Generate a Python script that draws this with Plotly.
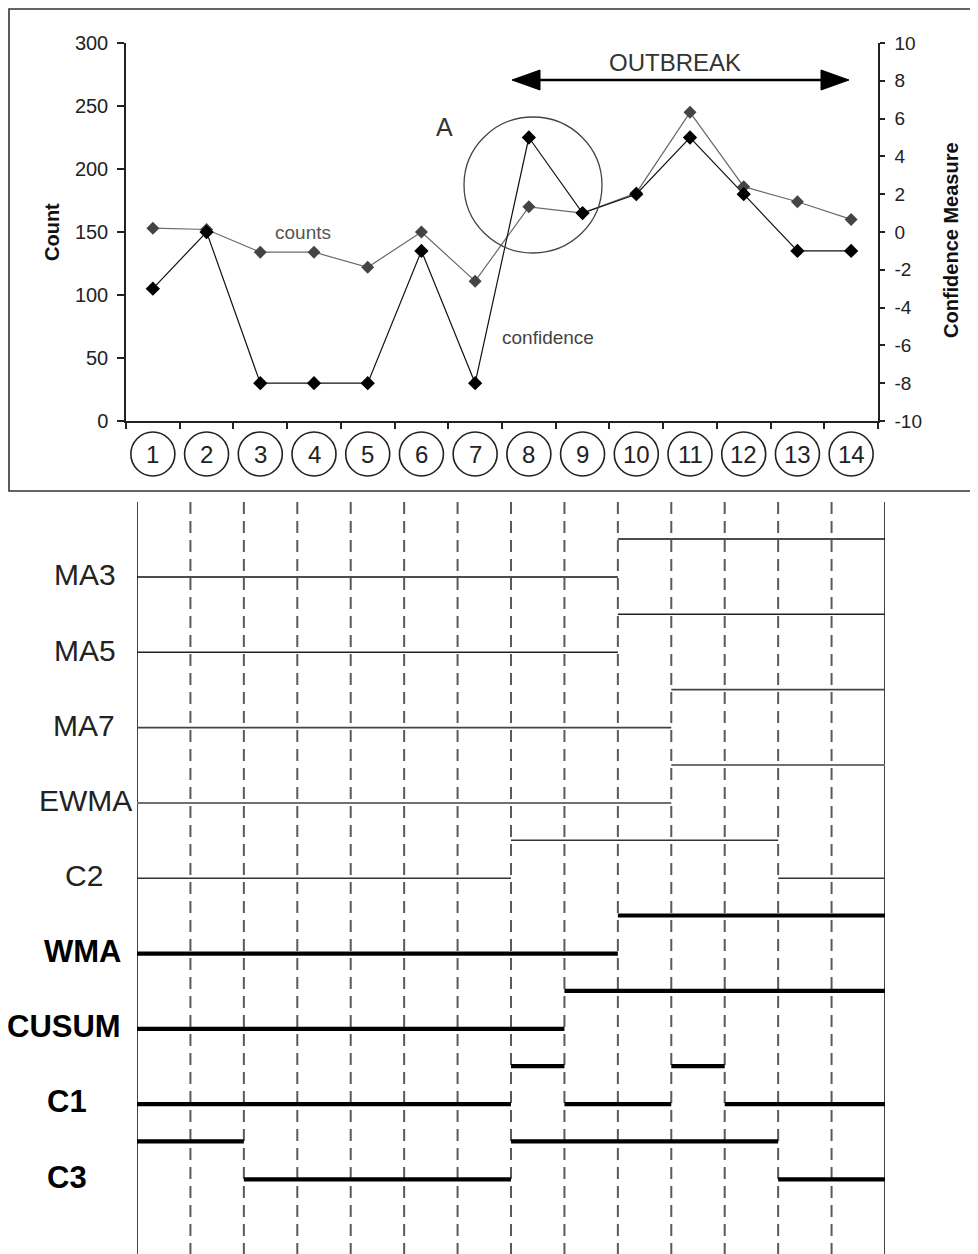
import plotly.graph_objects as go

# ---------------- data ----------------
days = list(range(1, 15))
day_labels = [str(d) for d in days]
counts = [153, 152, 134, 134, 122, 150, 111, 170, 165, 181, 245, 186, 174, 160]
confidence = [-3, 0, -8, -8, -8, -1, -8, 5, 1, 2, 5, 2, -1, -1]
count_ticks = [0, 50, 100, 150, 200, 250, 300]
conf_ticks = [-10, -8, -6, -4, -2, 0, 2, 4, 6, 8, 10]

methods = ["MA3", "MA5", "MA7", "EWMA", "C2", "WMA", "CUSUM", "C1", "C3"]
alarm_MA3 = [0, 0, 0, 0, 0, 0, 0, 0, 0, 1, 1, 1, 1, 1]
alarm_MA5 = [0, 0, 0, 0, 0, 0, 0, 0, 0, 1, 1, 1, 1, 1]
alarm_MA7 = [0, 0, 0, 0, 0, 0, 0, 0, 0, 0, 1, 1, 1, 1]
alarm_EWMA = [0, 0, 0, 0, 0, 0, 0, 0, 0, 0, 1, 1, 1, 1]
alarm_C2 = [0, 0, 0, 0, 0, 0, 0, 1, 1, 1, 1, 1, 0, 0]
alarm_WMA = [0, 0, 0, 0, 0, 0, 0, 0, 0, 1, 1, 1, 1, 1]
alarm_CUSUM = [0, 0, 0, 0, 0, 0, 0, 0, 1, 1, 1, 1, 1, 1]
alarm_C1 = [0, 0, 0, 0, 0, 0, 0, 1, 0, 0, 1, 0, 0, 0]
alarm_C3 = [1, 1, 0, 0, 0, 0, 0, 1, 1, 1, 1, 1, 0, 0]
alarms = [alarm_MA3, alarm_MA5, alarm_MA7, alarm_EWMA, alarm_C2,
          alarm_WMA, alarm_CUSUM, alarm_C1, alarm_C3]

# ---------------- style / page geometry ----------------
OFF = 8                      # default body margin of the page
FW, FH = 978 - OFF, 1254 - OFF
FONT = "Liberation Sans, Arial, sans-serif"


def PX(x):
    return (x - OFF) / FW


def PY(y):
    return 1 - (y - OFF) / FH


method_style = {
    "MA3": dict(color="#111", width=1.6, bold=False, lx=118, anchor="right"),
    "MA5": dict(color="#222", width=1.6, bold=False, lx=118, anchor="right"),
    "MA7": dict(color="#444", width=1.8, bold=False, lx=117, anchor="right"),
    "EWMA": dict(color="#707070", width=2.0, bold=False, lx=134, anchor="right"),
    "C2": dict(color="#333", width=1.6, bold=False, lx=63, anchor="left"),
    "WMA": dict(color="#000", width=4.2, bold=True, lx=123, anchor="right"),
    "CUSUM": dict(color="#000", width=4.2, bold=True, lx=123, anchor="right"),
    "C1": dict(color="#000", width=4.2, bold=True, lx=45, anchor="left"),
    "C3": dict(color="#000", width=4.2, bold=True, lx=45, anchor="left"),
}

fig = go.Figure()

# ---------------- top chart ----------------
fig.add_trace(go.Scatter(
    x=days, y=counts, mode="lines+markers", xaxis="x", yaxis="y",
    line=dict(color="#6a6a6a", width=1.2),
    marker=dict(symbol="diamond", size=10, color="#444"),
    cliponaxis=False, showlegend=False))
fig.add_trace(go.Scatter(
    x=days, y=confidence, mode="lines+markers", xaxis="x", yaxis="y2",
    line=dict(color="#111", width=1.2),
    marker=dict(symbol="diamond", size=11, color="#000"),
    cliponaxis=False, showlegend=False))

# ---------------- bottom chart ----------------
n = len(days)
Y_TOP, Y_BOT = -0.996, 8.99
for k in range(0, n + 1):
    solid = k in (0, n)
    fig.add_trace(go.Scatter(
        x=[k, k], y=[Y_TOP, Y_BOT], mode="lines", xaxis="x2", yaxis="y3",
        line=dict(color="#444" if solid else "#5a5a5a", width=2,
                  dash="solid" if solid else "12px,7px"),
        hoverinfo="skip", showlegend=False))

UP = 0.505
for r, (m, al) in enumerate(zip(methods, alarms)):
    st = method_style[m]
    xs, ys = [], []
    start = 0
    for i in range(1, n + 1):
        if i == n or al[i] != al[start]:
            lvl = r - UP if al[start] else r
            xs += [start, i, None]
            ys += [lvl, lvl, None]
            start = i
    fig.add_trace(go.Scatter(
        x=xs, y=ys, mode="lines", xaxis="x2", yaxis="y3",
        line=dict(color=st["color"], width=st["width"]),
        hoverinfo="skip", showlegend=False))

annotations = []
for r, m in enumerate(methods):
    st = method_style[m]
    annotations.append(dict(
        text=f"<b>{m}</b>" if st["bold"] else m,
        xref="paper", x=PX(st["lx"]), xanchor=st["anchor"],
        yref="y3", y=r - 0.03, yanchor="middle", showarrow=False,
        font=dict(family=FONT, size=31 if st["bold"] else 30,
                  color="#000" if st["bold"] else "#222")))

# circled day labels
shapes = []
for d, lab in zip(days, day_labels):
    shapes.append(dict(
        type="circle", xref="x", yref="paper",
        xsizemode="pixel", xanchor=d, x0=-22, x1=22,
        ysizemode="pixel", yanchor=PY(454), y0=-22, y1=22,
        line=dict(color="#222", width=1.6)))
    annotations.append(dict(
        text=lab, xref="x", x=d, yref="paper", y=PY(455), showarrow=False,
        xanchor="center", yanchor="middle",
        font=dict(family=FONT, size=24, color="#222")))

# frame around top chart
shapes.append(dict(type="rect", xref="paper", yref="paper",
                   x0=PX(9), x1=PX(975), y0=PY(491), y1=PY(9),
                   line=dict(color="#333", width=1.6)))
# big circle
shapes.append(dict(type="circle", xref="paper", yref="paper",
                   x0=PX(464), x1=PX(602), y0=PY(253), y1=PY(117),
                   line=dict(color="#444", width=1.3)))
# outbreak arrow
shapes.append(dict(type="line", xref="paper", yref="paper",
                   x0=PX(530), x1=PX(830), y0=PY(80), y1=PY(80),
                   line=dict(color="#000", width=2.5)))
for tip, base in ((512, 540), (849, 821)):
    shapes.append(dict(
        type="path", xref="paper", yref="paper",
        path=(f"M {PX(tip)} {PY(80)} L {PX(base)} {PY(70)} "
              f"L {PX(base)} {PY(90)} Z"),
        fillcolor="#000", line=dict(color="#000", width=1)))


def note(text, x, y, size, color, angle=0):
    return dict(text=text, xref="paper", yref="paper", x=PX(x), y=PY(y),
                xanchor="center", yanchor="middle", textangle=angle,
                showarrow=False, font=dict(family=FONT, size=size, color=color))


annotations += [
    note("OUTBREAK", 675, 62, 24, "#333"),
    note("A", 444, 127, 25, "#333"),
    note("counts", 303, 232, 19, "#555"),
    note("confidence", 548, 338, 19, "#444"),
    note("<b>Count</b>", 52, 232, 20, "#111", -90),
    note("<b>Confidence Measure</b>", 951, 240, 20, "#111", -90),
]

fig.update_layout(
    width=FW, height=FH,
    margin=dict(l=0, r=0, t=0, b=0, pad=0, autoexpand=False),
    paper_bgcolor="white", plot_bgcolor="white", showlegend=False,
    font=dict(family=FONT),
    xaxis=dict(domain=[PX(126), PX(878)], range=[0.5, 14.5], anchor="y",
               tickvals=[i + 0.5 for i in range(0, 15)], ticks="outside",
               ticklen=6, tickcolor="#222", tickwidth=1.5,
               showticklabels=False, showline=True, linecolor="#222",
               linewidth=1.5, showgrid=False, zeroline=False),
    yaxis=dict(domain=[PY(421), PY(43)], range=[0, 300],
               tickvals=count_ticks, ticktext=[str(v) for v in count_ticks],
               anchor="x", ticks="outside", ticklen=7, tickwidth=1.5,
               tickcolor="#222", showline=True, linecolor="#222",
               linewidth=1.5, showgrid=False, zeroline=False,
               ticklabelstandoff=5,
               tickfont=dict(family=FONT, size=20, color="#222")),
    yaxis2=dict(overlaying="y", side="right", range=[-10, 10],
                tickvals=conf_ticks, ticktext=[str(v) for v in conf_ticks],
                anchor="x", ticks="outside", ticklen=5, tickwidth=1.5,
                tickcolor="#222", showline=True, linecolor="#222",
                linewidth=1.5, showgrid=False, zeroline=False,
                ticklabelstandoff=6,
                tickfont=dict(family=FONT, size=19, color="#222")),
    yaxis4=dict(overlaying="y", side="right", range=[-10, 10],
                tickvals=conf_ticks, anchor="x", ticks="inside", ticklen=5,
                tickwidth=1.5, tickcolor="#222", showticklabels=False,
                showline=False, showgrid=False, zeroline=False),
    xaxis2=dict(domain=[PX(137), PX(885)], range=[0, 14], anchor="y3",
                visible=False),
    yaxis3=dict(domain=[0, PY(502)], range=[Y_BOT, Y_TOP], anchor="x2",
                visible=False),
    shapes=shapes, annotations=annotations,
)

fig.write_html("out.html")
